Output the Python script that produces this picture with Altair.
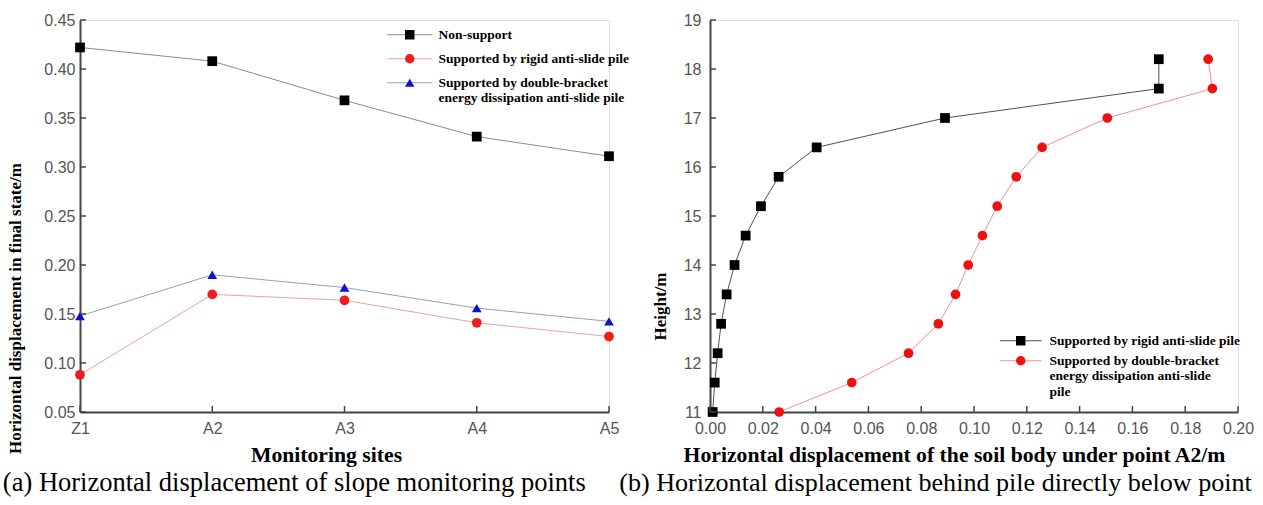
import altair as alt
import pandas as pd

# ---------------- data: panel (a) ----------------
sites = ["Z1", "A2", "A3", "A4", "A5"]
series_a = [
    "Non-support",
    "Supported by rigid anti-slide pile",
    "Supported by double-bracket energy dissipation anti-slide pile",
]
non_support = [0.422, 0.408, 0.368, 0.331, 0.311]
rigid_a = [0.088, 0.170, 0.164, 0.141, 0.127]
double_a = [0.148, 0.190, 0.177, 0.156, 0.1425]
y_ticks_a = [0.05, 0.10, 0.15, 0.20, 0.25, 0.30, 0.35, 0.40, 0.45]

# ---------------- data: panel (b) ----------------
series_b = [
    "Supported by rigid anti-slide pile",
    "Supported by double-bracket energy dissipation anti-slide pile",
]
heights = [11.0, 11.6, 12.2, 12.8, 13.4, 14.0, 14.6, 15.2, 15.8, 16.4, 17.0, 17.6, 18.2]
rigid_b = [0.001, 0.0018, 0.0029, 0.0042, 0.0063, 0.0093, 0.0135, 0.0193, 0.0260, 0.0404, 0.089, 0.170, 0.170]
double_b = [0.0262, 0.0537, 0.0752, 0.0865, 0.0930, 0.0978, 0.1032, 0.1088, 0.1160, 0.1258, 0.1505, 0.1903, 0.1887]
x_ticks_b = [0.00, 0.02, 0.04, 0.06, 0.08, 0.10, 0.12, 0.14, 0.16, 0.18, 0.20]
y_ticks_b = [11, 12, 13, 14, 15, 16, 17, 18, 19]

caption_a = "(a) Horizontal displacement of slope monitoring points"
caption_b = "(b) Horizontal displacement behind pile directly below point"

SERIF = "Liberation Serif"
SANS = "Liberation Sans"
LABEL_COLOR = "#555555"
AXIS_COLOR = "#444444"
TICK_FS = 16
TITLE_FS = 21.7
LEG_FS = 13.5

rows_a = []
for s, vals in zip(series_a, [non_support, rigid_a, double_a]):
    for i, (site, v) in enumerate(zip(sites, vals)):
        rows_a.append({"site": site, "value": v, "series": s, "line_series": s, "idx": i})
df_a = pd.DataFrame(rows_a)

rows_b = []
for s, vals in zip(series_b, [rigid_b, double_b]):
    for h, v in zip(heights, vals):
        rows_b.append({"height": h, "disp": v, "series": s, "line_series": s})
df_b = pd.DataFrame(rows_b)

W_A, W_B, H = 529, 528, 392


def legend_pair(label_expr, lx, ly, row_pad, line_path):
    common = dict(title=None, orient="none", legendX=lx, legendY=ly, labelExpr=label_expr,
                  labelFont=SERIF, labelFontSize=LEG_FS, labelFontWeight="bold",
                  labelLimit=400, rowPadding=row_pad, padding=0, symbolSize=90,
                  labelOffset=22)
    line_leg = alt.Legend(symbolType=line_path, symbolStrokeWidth=1, labelOpacity=0, **common)
    point_leg = alt.Legend(symbolStrokeWidth=0, labelColor="black", **common)
    return line_leg, point_leg


# ---------- panel (a) ----------
xa_scale = alt.Scale(type="point", padding=0, domain=sites)
xa = alt.X("site:N", sort=sites, scale=xa_scale,
           axis=alt.Axis(title="Monitoring sites", labelAngle=0, ticks=False, grid=False,
                         labelFont=SANS, labelFontSize=TICK_FS, labelColor=LABEL_COLOR,
                         labelPadding=8, domainColor=AXIS_COLOR, domainWidth=2,
                         titleFont=SERIF, titleFontSize=TITLE_FS, titleFontWeight="bold",
                         titleColor="black", titlePadding=8, titleX=246, titleAlign="center"))
ya_scale = alt.Scale(domain=[0.05, 0.45], nice=False, zero=False)
ya = alt.Y("value:Q", scale=ya_scale,
           axis=alt.Axis(title="Horizontal displacement in final state/m", values=y_ticks_a,
                         format=".2f", ticks=False, grid=False, labelFont=SANS, labelFontSize=TICK_FS,
                         labelColor=LABEL_COLOR, labelPadding=5, domainColor=AXIS_COLOR,
                         domainWidth=2, titleFont=SERIF, titleFontSize=17,
                         titleFontWeight="bold", titleColor="black", titlePadding=19,
                         titleY=288, titleAlign="center"))

line_colors_a = ["#8c8c8c", "#eaa2a2", "#9c9cba"]
point_colors_a = ["#000000", "#ee1c1c", "#1010cc"]
shapes_a = ["square", "circle", "triangle-up"]

legend_label_a = ("datum.label == 'Supported by double-bracket energy dissipation anti-slide pile'"
                  " ? ['Supported by double-bracket', 'energy dissipation anti-slide pile'] : datum.label")
line_leg_a, point_leg_a = legend_pair(legend_label_a, 323, 8, 9, "M-4.75,0H4.75")

lines_a = alt.Chart(df_a).mark_line(strokeWidth=1).encode(
    x=xa, y=ya,
    stroke=alt.Stroke("line_series:N", scale=alt.Scale(domain=series_a, range=line_colors_a),
                      legend=line_leg_a),
    order="idx:O",
)
points_a = alt.Chart(df_a).mark_point(filled=True, size=95, opacity=1).encode(
    x=xa, y=ya,
    color=alt.Color("series:N", scale=alt.Scale(domain=series_a, range=point_colors_a),
                    legend=point_leg_a),
    shape=alt.Shape("series:N", scale=alt.Scale(domain=series_a, range=shapes_a)),
)
ytick_a = alt.Chart(pd.DataFrame({"v": y_ticks_a})).mark_rule(color=AXIS_COLOR, strokeWidth=1.5).encode(
    y=alt.Y("v:Q", scale=ya_scale), x=alt.value(0), x2=alt.value(6))
xtick_a = alt.Chart(pd.DataFrame({"site": sites})).mark_rule(color=AXIS_COLOR, strokeWidth=1.5).encode(
    x=alt.X("site:N", sort=sites, scale=xa_scale), y=alt.value(H), y2=alt.value(H - 6))

panel_a = alt.layer(lines_a, points_a, ytick_a, xtick_a).resolve_scale(
    color="independent", shape="independent", stroke="independent").properties(
    width=W_A, height=H,
    title=alt.TitleParams(caption_a, orient="bottom", anchor="start", dx=-4, offset=4,
                          font=SERIF, fontSize=26.5, fontWeight="normal", color="black"))

# ---------- panel (b) ----------
xb_scale = alt.Scale(domain=[0, 0.2], nice=False, zero=False)
yb_scale = alt.Scale(domain=[11, 19], nice=False, zero=False)
xb = alt.X("disp:Q", scale=xb_scale,
           axis=alt.Axis(title="Horizontal displacement of the soil body under point A2/m",
                         values=x_ticks_b, format=".2f", ticks=False, grid=False, labelFont=SANS,
                         labelFontSize=TICK_FS, labelColor=LABEL_COLOR, labelPadding=8,
                         labelFlush=False, domainColor=AXIS_COLOR, domainWidth=2,
                         titleFont=SERIF, titleFontSize=TITLE_FS, titleFontWeight="bold",
                         titleColor="black", titlePadding=8, titleX=244, titleAlign="center"))
yb = alt.Y("height:Q", scale=yb_scale,
           axis=alt.Axis(title="Height/m", values=y_ticks_b, format="d", ticks=False, grid=False,
                         labelFont=SANS, labelFontSize=TICK_FS, labelColor=LABEL_COLOR,
                         labelPadding=9, labelFlush=False, domainColor=AXIS_COLOR, domainWidth=2,
                         titleFont=SERIF, titleFontSize=17, titleFontWeight="bold",
                         titleColor="black", titlePadding=14, titleY=286, titleAlign="center"))

line_colors_b = ["#505050", "#f09090"]
point_colors_b = ["#000000", "#ee1010"]
shapes_b = ["square", "circle"]
legend_label_b = ("datum.label == 'Supported by double-bracket energy dissipation anti-slide pile'"
                  " ? ['Supported by double-bracket', 'energy dissipation anti-slide', 'pile'] : datum.label")
line_leg_b, point_leg_b = legend_pair(legend_label_b, 304, 314, 5, "M-4.4,0H4.4")

lines_b = alt.Chart(df_b).mark_line(strokeWidth=1).encode(
    x=xb, y=yb,
    stroke=alt.Stroke("line_series:N", scale=alt.Scale(domain=series_b, range=line_colors_b),
                      legend=line_leg_b),
    order="height:Q",
)
points_b = alt.Chart(df_b).mark_point(filled=True, size=95, opacity=1).encode(
    x=xb, y=yb,
    color=alt.Color("series:N", scale=alt.Scale(domain=series_b, range=point_colors_b),
                    legend=point_leg_b),
    shape=alt.Shape("series:N", scale=alt.Scale(domain=series_b, range=shapes_b)),
)
ytick_b = alt.Chart(pd.DataFrame({"v": y_ticks_b})).mark_rule(color=AXIS_COLOR, strokeWidth=1.5).encode(
    y=alt.Y("v:Q", scale=yb_scale), x=alt.value(0), x2=alt.value(6))
xtick_b = alt.Chart(pd.DataFrame({"v": x_ticks_b})).mark_rule(color=AXIS_COLOR, strokeWidth=1.5).encode(
    x=alt.X("v:Q", scale=xb_scale), y=alt.value(H), y2=alt.value(H - 6))

panel_b = alt.layer(lines_b, points_b, ytick_b, xtick_b).resolve_scale(
    color="independent", shape="independent", stroke="independent").properties(
    width=W_B, height=H,
    title=alt.TitleParams(caption_b, orient="bottom", anchor="start", dx=-32, offset=4,
                          font=SERIF, fontSize=26.1, fontWeight="normal", color="black"))

chart = alt.hconcat(panel_a, panel_b, spacing=-13).resolve_scale(
    color="independent", shape="independent", stroke="independent", x="independent", y="independent"
).configure_view(stroke=None).configure(
    background="white", padding={"left": 2, "top": 11, "right": 0, "bottom": 0})

chart.save("out.html", embed_options={"renderer": "svg", "actions": False})
